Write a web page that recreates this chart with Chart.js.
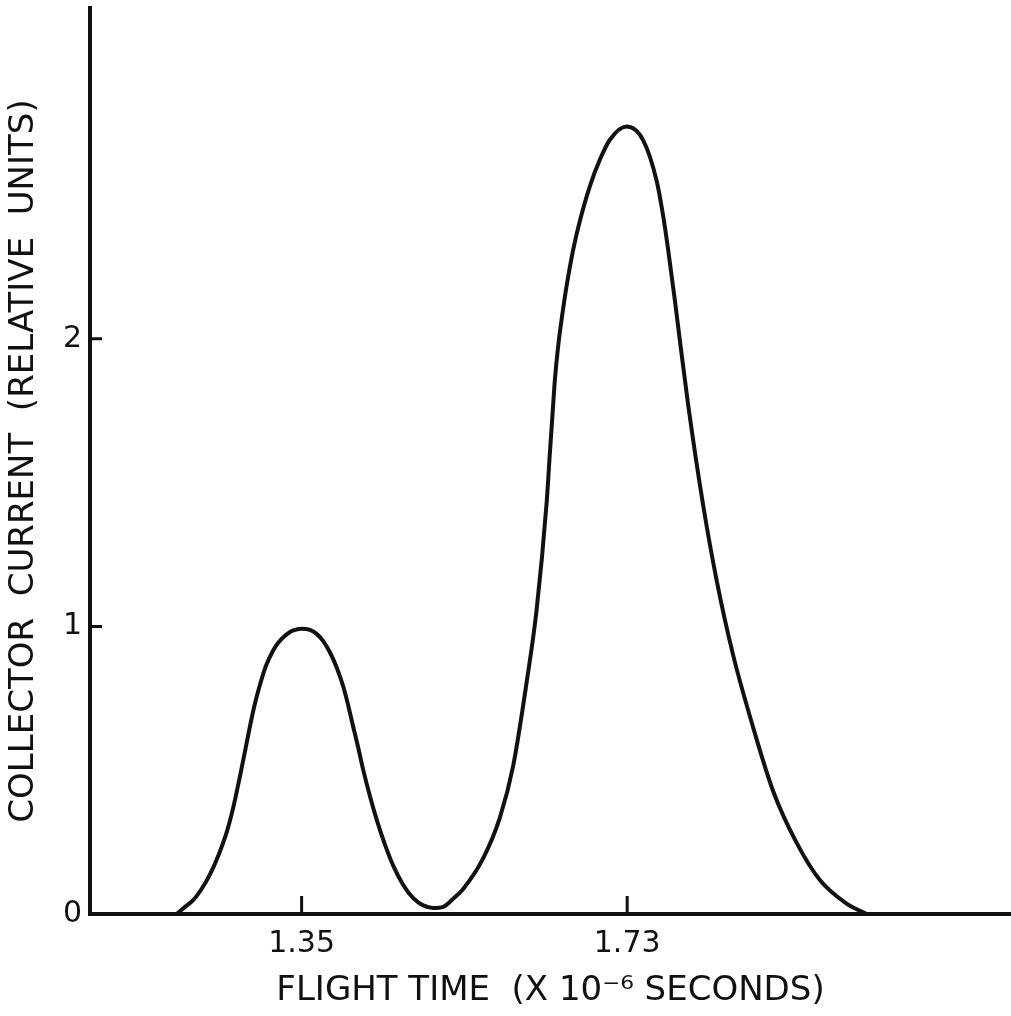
<!DOCTYPE html>
<html>
<head>
<meta charset="utf-8">
<script src="https://cdn.jsdelivr.net/npm/chart.js@4.4.1/dist/chart.umd.min.js"></script>
<style>
  html, body { margin: 0; padding: 0; background: #fff; }
</style>
</head>
<body>
<canvas id="tofChart" width="1011" height="1016"></canvas>
<script>
// values (flight time in 10^-6 s, current in relative units)
const flightTime = [
  1.2041, 1.2137, 1.2234, 1.2332, 1.2429, 1.2526, 1.2624, 1.2701, 1.2779, 1.2838,
  1.2896, 1.2954, 1.3013, 1.3083, 1.3169, 1.3227, 1.3325, 1.3402, 1.3500, 1.3597,
  1.3675, 1.3752, 1.3830, 1.3908, 1.3986, 1.4044, 1.4102, 1.4161, 1.4219, 1.4297,
  1.4375, 1.4472, 1.4569, 1.4686, 1.4803, 1.4919, 1.5036, 1.5153, 1.5269, 1.5386,
  1.5620, 1.5815, 1.5970, 1.6126, 1.6243, 1.6360, 1.6398, 1.6430, 1.6457, 1.6495,
  1.6535, 1.6593, 1.6670, 1.6749, 1.6865, 1.6982, 1.7098, 1.7293, 1.7487, 1.7643,
  1.7720, 1.7779, 1.7857, 1.7915, 1.8012, 1.8187, 1.8343, 1.8537, 1.8771, 1.9004,
  1.9277, 1.9549, 1.9861, 2.0094
];
const current = [
  0, 0.024, 0.048, 0.087, 0.137, 0.202, 0.283, 0.369, 0.477, 0.564,
  0.651, 0.730, 0.796, 0.862, 0.917, 0.943, 0.972, 0.986, 0.992, 0.988,
  0.974, 0.949, 0.910, 0.858, 0.791, 0.725, 0.651, 0.578, 0.501, 0.410,
  0.329, 0.242, 0.168, 0.101, 0.055, 0.030, 0.021, 0.025, 0.053, 0.087,
  0.194, 0.336, 0.516, 0.805, 1.058, 1.430, 1.604, 1.744, 1.860, 1.976,
  2.068, 2.184, 2.310, 2.411, 2.531, 2.623, 2.692, 2.738, 2.690, 2.550,
  2.427, 2.308, 2.133, 1.994, 1.770, 1.421, 1.162, 0.900, 0.648, 0.427,
  0.248, 0.118, 0.036, 0
];
const xTicks = [1.35, 1.73];
const yTicks = [0, 1, 2];

const ink = '#111';
const fontFamily = '"DejaVu Sans", sans-serif';

// tick marks in the original point into the plot, so draw them ourselves
const inwardTicks = {
  id: 'inwardTicks',
  afterDraw(chart) {
    const c = chart.ctx;
    const xs = chart.scales.x;
    const ys = chart.scales.y;
    c.save();
    c.strokeStyle = ink;
    c.lineWidth = 3;
    c.beginPath();
    xTicks.forEach(v => {
      const px = xs.getPixelForValue(v);
      c.moveTo(px, xs.top);
      c.lineTo(px, xs.top - 18);
    });
    yTicks.filter(v => v > 0).forEach(v => {
      const py = ys.getPixelForValue(v);
      c.moveTo(ys.right, py);
      c.lineTo(ys.right + 12, py);
    });
    c.stroke();
    c.restore();
  }
};

const points = flightTime.map((t, i) => ({ x: t, y: current[i] }));

new Chart(document.getElementById('tofChart'), {
  type: 'line',
  data: {
    datasets: [{
      data: points,
      borderColor: ink,
      borderWidth: 4,
      pointRadius: 0,
      fill: false,
      cubicInterpolationMode: 'monotone'
    }]
  },
  options: {
    responsive: false,
    animation: false,
    layout: { padding: { top: 8, right: 0, left: 0, bottom: 0 } },
    plugins: {
      legend: { display: false },
      tooltip: { enabled: false }
    },
    scales: {
      x: {
        type: 'linear',
        min: 1.103,
        max: 2.178,
        afterBuildTicks: s => { s.ticks = xTicks.map(v => ({ value: v })); },
        afterFit: s => { s.height = 102; s.paddingLeft = 0; s.paddingRight = 0; },
        grid: { display: false, drawTicks: false },
        border: { color: ink, width: 4 },
        ticks: {
          color: ink,
          padding: 12,
          font: { family: fontFamily, size: 30 },
          callback: v => v.toFixed(2)
        },
        title: {
          display: true,
          text: 'FLIGHT TIME  (X 10⁻⁶ SECONDS)',
          color: ink,
          font: { family: fontFamily, size: 34 },
          padding: { top: 0, bottom: 4 }
        }
      },
      y: {
        min: 0,
        max: 3.15,
        afterBuildTicks: s => { s.ticks = yTicks.map(v => ({ value: v })); },
        afterFit: s => { s.width = 90; s.paddingTop = 0; s.paddingBottom = 0; },
        grid: { display: false, drawTicks: false },
        border: { color: ink, width: 4 },
        ticks: {
          color: ink,
          padding: 8,
          font: { family: fontFamily, size: 30 }
        },
        title: {
          display: true,
          text: 'COLLECTOR  CURRENT  (RELATIVE  UNITS)',
          color: ink,
          font: { family: fontFamily, size: 34 },
          padding: { top: 4, bottom: 0 }
        }
      }
    }
  },
  plugins: [inwardTicks]
});
</script>
</body>
</html>
